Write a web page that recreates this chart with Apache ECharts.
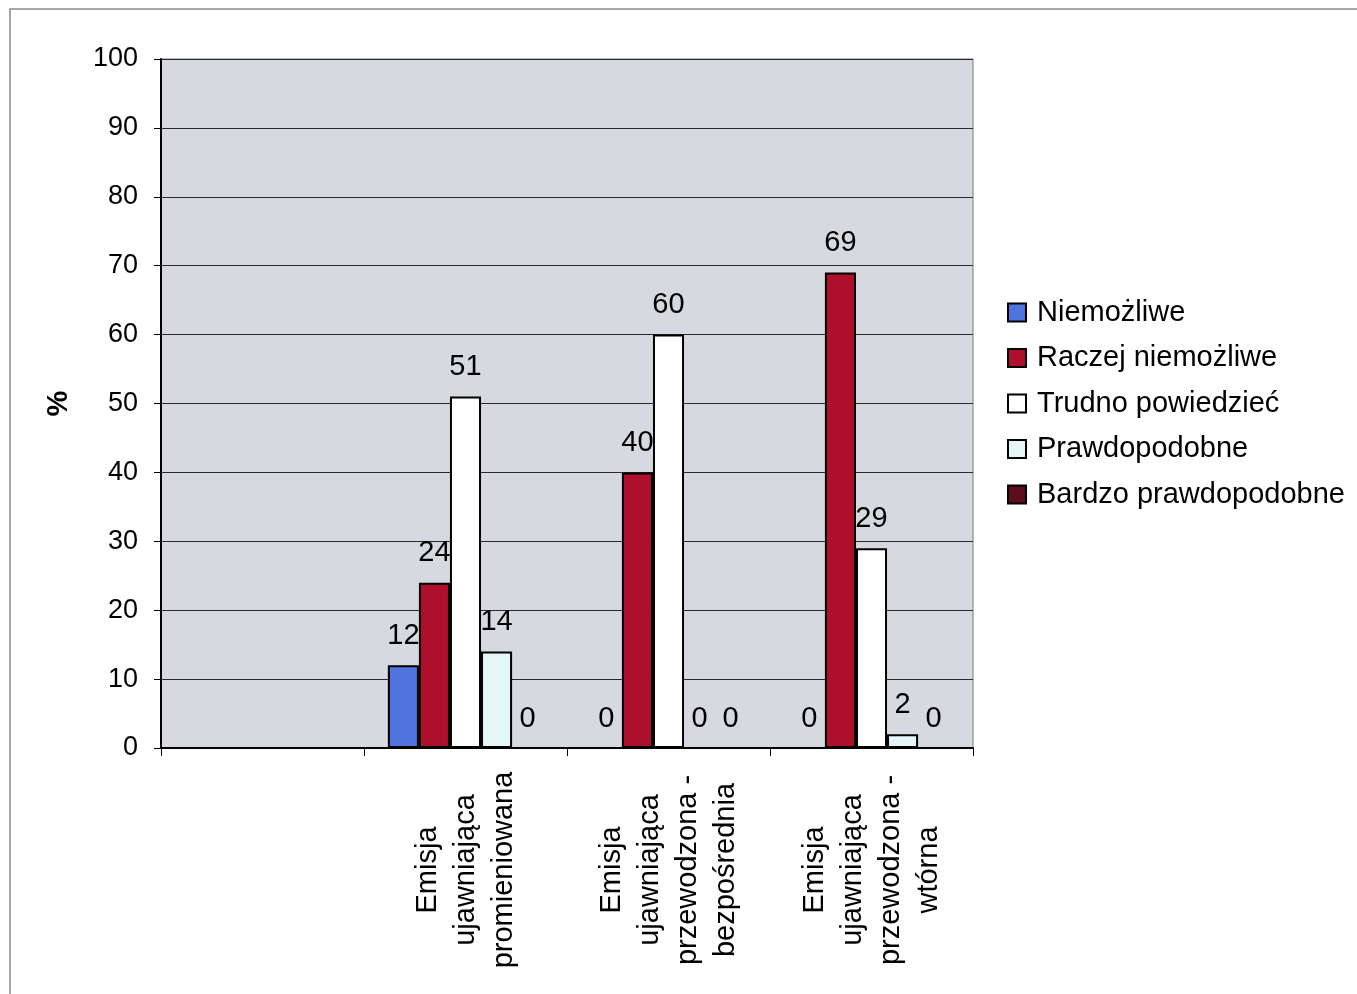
<!DOCTYPE html>
<html>
<head>
<meta charset="utf-8">
<script src="https://cdn.jsdelivr.net/npm/echarts@6/dist/echarts.min.js"></script>
<style>
  html, body { margin: 0; padding: 0; background: #ffffff; }
  #chart { width: 1357px; height: 994px; }
</style>
</head>
<body>
<div id="chart"></div>
<script>
// Categories (first slot is intentionally empty)
var categories = [
  '',
  'Emisja\nujawniająca\npromieniowana',
  'Emisja\nujawniająca\nprzewodzona -\nbezpośrednia',
  'Emisja\nujawniająca\nprzewodzona -\nwtórna'
];

var seriesNames = [
  'Niemożliwe',
  'Raczej niemożliwe',
  'Trudno powiedzieć',
  'Prawdopodobne',
  'Bardzo prawdopodobne'
];

// Percentages per answer
var niemozliwe          = ['-', 12, 0, 0];
var raczejNiemozliwe    = ['-', 24, 40, 69];
var trudnoPowiedziec    = ['-', 51, 60, 29];
var prawdopodobne       = ['-', 14, 0, 2];
var bardzoPrawdopodobne = ['-', 0, 0, 0];

var yTicks = { min: 0, max: 100, step: 10 };

var values = [niemozliwe, raczejNiemozliwe, trudnoPowiedziec, prawdopodobne, bardzoPrawdopodobne];
var colors = ['#4f74de', '#ad0f2c', '#ffffff', '#e4f6f6', '#5e0b1b'];

var FONT = "'Liberation Sans', Arial, sans-serif";

var series = [];
// Bars (drawn above the value labels)
values.forEach(function (vals, i) {
  series.push({
    name: seriesNames[i],
    type: 'bar',
    xAxisIndex: 0,
    data: vals,
    barGap: '0%',
    barCategoryGap: '23.5%',
    z: 3,
    itemStyle: { color: colors[i], borderColor: '#000000', borderWidth: 2 },
    label: { show: false }
  });
});
// Value labels on a twin axis so bars can overlap them
values.forEach(function (vals, i) {
  series.push({
    name: seriesNames[i],
    type: 'bar',
    xAxisIndex: 1,
    data: vals,
    barGap: '0%',
    barCategoryGap: '23.5%',
    z: 1,
    silent: true,
    itemStyle: { color: 'rgba(0,0,0,0)', borderWidth: 0 },
    label: {
      show: true,
      position: 'top',
      distance: 15,
      color: '#000000',
      fontSize: 29,
      fontFamily: FONT
    }
  });
});

var chart = echarts.init(document.getElementById('chart'), null, { renderer: 'canvas' });
chart.setOption({
  backgroundColor: '#ffffff',
  animation: false,
  textStyle: { fontFamily: FONT },
  graphic: [{
    type: 'rect',
    shape: { x: 10, y: 9, width: 1400, height: 1100 },
    style: { fill: 'none', stroke: '#8a8a96', lineWidth: 1.5 },
    silent: true,
    z: 0
  }],
  grid: {
    left: 161, right: 384, top: 59, bottom: 246,
    show: true,
    backgroundColor: '#d6d9e0',
    borderColor: '#7a7a7a',
    borderWidth: 1,
    containLabel: false,
    outerBoundsMode: 'none'
  },
  legend: {
    orient: 'vertical',
    left: 1007,
    top: 298,
    padding: 0,
    itemWidth: 18,
    itemHeight: 18,
    itemGap: 16.5,
    icon: 'rect',
    data: seriesNames,
    selectedMode: false,
    textStyle: {
      fontSize: 29,
      lineHeight: 28,
      color: '#000000',
      fontFamily: FONT,
      padding: [0, 0, 0, 6]
    }
  },
  xAxis: [{
    type: 'category',
    data: categories,
    axisLine: { show: true, lineStyle: { color: '#000000', width: 2 } },
    axisTick: { show: true, length: 8, lineStyle: { color: '#000000', width: 1 } },
    splitLine: { show: false },
    axisLabel: {
      interval: 0,
      rotate: 90,
      align: 'center',
      verticalAlign: 'middle',
      margin: 122,
      fontSize: 29,
      lineHeight: 38,
      color: '#000000',
      fontFamily: FONT
    }
  }, {
    type: 'category',
    data: categories,
    show: false
  }],
  yAxis: {
    type: 'value',
    min: yTicks.min,
    max: yTicks.max,
    interval: yTicks.step,
    name: '%',
    nameLocation: 'middle',
    nameGap: 88,
    nameTextStyle: { fontSize: 29, fontWeight: 'bold', color: '#000000', fontFamily: FONT },
    axisLine: { show: true, lineStyle: { color: '#000000', width: 2 } },
    axisTick: { show: true, length: 7, lineStyle: { color: '#000000', width: 1 } },
    splitLine: { show: true, lineStyle: { color: '#2a2a2a', width: 1 } },
    axisLabel: { margin: 23, fontSize: 27, color: '#000000', fontFamily: FONT }
  },
  series: series
});
</script>
</body>
</html>
